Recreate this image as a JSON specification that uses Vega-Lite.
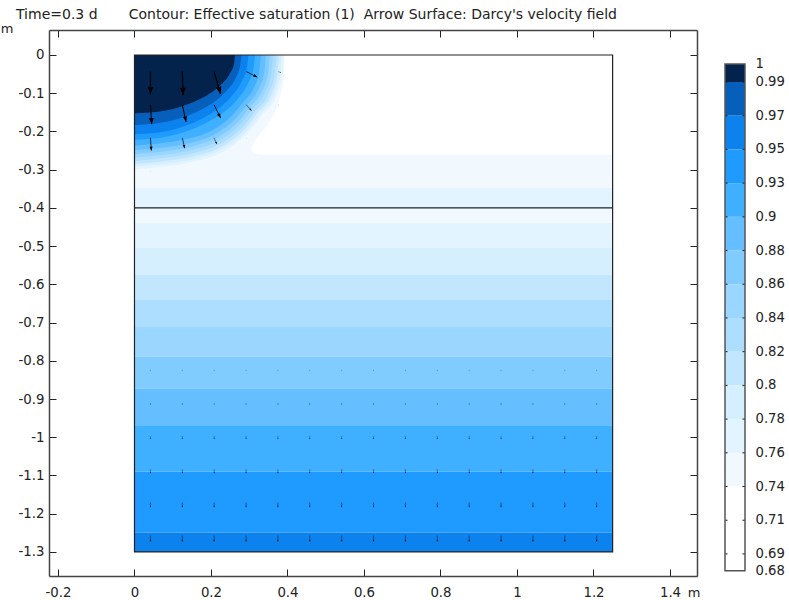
{"$schema":"https://vega.github.io/schema/vega-lite/v6.json","padding":{"left":0,"top":8,"right":0,"bottom":0},"spacing":24,"background":"white","config":{"view":{"stroke":null},"text":{"font":"DejaVu Sans"},"axis":{"labelFont":"DejaVu Sans","titleFont":"DejaVu Sans"},"title":{"font":"DejaVu Sans"}},
"datasets":{
"bands":[{"band":"0.74-0.76","x":0,"x2":1.25,"y":0,"y2":-0.348},{"band":"0.76-0.78","x":0,"x2":1.25,"y":-0.348,"y2":-0.4},{"band":"0.74-0.76","x":0,"x2":1.25,"y":-0.4,"y2":-0.4396},{"band":"0.76-0.78","x":0,"x2":1.25,"y":-0.4396,"y2":-0.505},{"band":"0.78-0.80","x":0,"x2":1.25,"y":-0.505,"y2":-0.5756},{"band":"0.80-0.82","x":0,"x2":1.25,"y":-0.5756,"y2":-0.641},{"band":"0.82-0.84","x":0,"x2":1.25,"y":-0.641,"y2":-0.7117},{"band":"0.84-0.86","x":0,"x2":1.25,"y":-0.7117,"y2":-0.789},{"band":"0.86-0.88","x":0,"x2":1.25,"y":-0.789,"y2":-0.8726},{"band":"0.88-0.90","x":0,"x2":1.25,"y":-0.8726,"y2":-0.9707},{"band":"0.90-0.93","x":0,"x2":1.25,"y":-0.9707,"y2":-1.09},{"band":"0.93-0.95","x":0,"x2":1.25,"y":-1.09,"y2":-1.249},{"band":"0.95-0.97","x":0,"x2":1.25,"y":-1.249,"y2":-1.3}],
"white":[{"x":0.3046,"y":-0.2459,"y2":-0.2459},{"x":0.3124,"y":-0.23,"y2":-0.2564},{"x":0.32,"y":-0.2172,"y2":-0.259},{"x":0.3516,"y":-0.178,"y2":-0.2616},{"x":0.3778,"y":-0.118,"y2":-0.2616},{"x":0.3908,"y":-0.0575,"y2":-0.2616},{"x":0.3925,"y":0,"y2":-0.2616},{"x":1.25,"y":0,"y2":-0.2616}],
"arcs":[
{"band":"0.76-0.78","x":0,"y":-0.299},{"band":"0.76-0.78","x":0.07,"y":-0.293},{"band":"0.76-0.78","x":0.16,"y":-0.278},{"band":"0.76-0.78","x":0.246,"y":-0.245},{"band":"0.76-0.78","x":0.301,"y":-0.2},{"band":"0.76-0.78","x":0.332,"y":-0.16},{"band":"0.76-0.78","x":0.37,"y":-0.108},{"band":"0.76-0.78","x":0.386,"y":-0.057},{"band":"0.76-0.78","x":0.391,"y":0},
{"band":"0.78-0.80","x":0,"y":-0.292},{"band":"0.78-0.80","x":0.069,"y":-0.286},{"band":"0.78-0.80","x":0.158,"y":-0.272},{"band":"0.78-0.80","x":0.243,"y":-0.239},{"band":"0.78-0.80","x":0.296,"y":-0.196},{"band":"0.78-0.80","x":0.327,"y":-0.156},{"band":"0.78-0.80","x":0.364,"y":-0.105},{"band":"0.78-0.80","x":0.38,"y":-0.055},{"band":"0.78-0.80","x":0.385,"y":0},
{"band":"0.80-0.82","x":0,"y":-0.285},{"band":"0.80-0.82","x":0.068,"y":-0.279},{"band":"0.80-0.82","x":0.155,"y":-0.265},{"band":"0.80-0.82","x":0.238,"y":-0.234},{"band":"0.80-0.82","x":0.291,"y":-0.191},{"band":"0.80-0.82","x":0.321,"y":-0.152},{"band":"0.80-0.82","x":0.358,"y":-0.103},{"band":"0.80-0.82","x":0.373,"y":-0.054},{"band":"0.80-0.82","x":0.378,"y":0},
{"band":"0.82-0.84","x":0,"y":-0.277},{"band":"0.82-0.84","x":0.067,"y":-0.271},{"band":"0.82-0.84","x":0.152,"y":-0.257},{"band":"0.82-0.84","x":0.234,"y":-0.227},{"band":"0.82-0.84","x":0.286,"y":-0.185},{"band":"0.82-0.84","x":0.315,"y":-0.148},{"band":"0.82-0.84","x":0.351,"y":-0.1},{"band":"0.82-0.84","x":0.366,"y":-0.053},{"band":"0.82-0.84","x":0.371,"y":0},
{"band":"0.84-0.86","x":0,"y":-0.268},{"band":"0.84-0.86","x":0.065,"y":-0.262},{"band":"0.84-0.86","x":0.148,"y":-0.249},{"band":"0.84-0.86","x":0.228,"y":-0.22},{"band":"0.84-0.86","x":0.279,"y":-0.179},{"band":"0.84-0.86","x":0.308,"y":-0.143},{"band":"0.84-0.86","x":0.342,"y":-0.096},{"band":"0.84-0.86","x":0.357,"y":-0.051},{"band":"0.84-0.86","x":0.362,"y":0},
{"band":"0.86-0.88","x":0,"y":-0.259},{"band":"0.86-0.88","x":0.064,"y":-0.254},{"band":"0.86-0.88","x":0.145,"y":-0.241},{"band":"0.86-0.88","x":0.223,"y":-0.212},{"band":"0.86-0.88","x":0.272,"y":-0.174},{"band":"0.86-0.88","x":0.3,"y":-0.138},{"band":"0.86-0.88","x":0.334,"y":-0.093},{"band":"0.86-0.88","x":0.349,"y":-0.049},{"band":"0.86-0.88","x":0.3535,"y":0},
{"band":"0.88-0.90","x":0,"y":-0.249},{"band":"0.88-0.90","x":0.062,"y":-0.244},{"band":"0.88-0.90","x":0.141,"y":-0.231},{"band":"0.88-0.90","x":0.216,"y":-0.204},{"band":"0.88-0.90","x":0.264,"y":-0.167},{"band":"0.88-0.90","x":0.292,"y":-0.133},{"band":"0.88-0.90","x":0.324,"y":-0.089},{"band":"0.88-0.90","x":0.339,"y":-0.047},{"band":"0.88-0.90","x":0.343,"y":0},
{"band":"0.90-0.93","x":0,"y":-0.237},{"band":"0.90-0.93","x":0.059,"y":-0.232},{"band":"0.90-0.93","x":0.135,"y":-0.22},{"band":"0.90-0.93","x":0.208,"y":-0.194},{"band":"0.90-0.93","x":0.254,"y":-0.159},{"band":"0.90-0.93","x":0.281,"y":-0.127},{"band":"0.90-0.93","x":0.312,"y":-0.085},{"band":"0.90-0.93","x":0.326,"y":-0.045},{"band":"0.90-0.93","x":0.33,"y":0},
{"band":"0.93-0.95","x":0,"y":-0.222},{"band":"0.93-0.95","x":0.057,"y":-0.218},{"band":"0.93-0.95","x":0.129,"y":-0.202},{"band":"0.93-0.95","x":0.198,"y":-0.172},{"band":"0.93-0.95","x":0.243,"y":-0.142},{"band":"0.93-0.95","x":0.268,"y":-0.117},{"band":"0.93-0.95","x":0.298,"y":-0.072},{"band":"0.93-0.95","x":0.311,"y":-0.036},{"band":"0.93-0.95","x":0.315,"y":0},
{"band":"0.95-0.97","x":0,"y":-0.207},{"band":"0.95-0.97","x":0.054,"y":-0.204},{"band":"0.95-0.97","x":0.122,"y":-0.189},{"band":"0.95-0.97","x":0.187,"y":-0.161},{"band":"0.95-0.97","x":0.229,"y":-0.132},{"band":"0.95-0.97","x":0.253,"y":-0.109},{"band":"0.95-0.97","x":0.281,"y":-0.067},{"band":"0.95-0.97","x":0.294,"y":-0.033},{"band":"0.95-0.97","x":0.2975,"y":0},
{"band":"0.97-0.99","x":0,"y":-0.183},{"band":"0.97-0.99","x":0.05,"y":-0.18},{"band":"0.97-0.99","x":0.115,"y":-0.167},{"band":"0.97-0.99","x":0.176,"y":-0.142},{"band":"0.97-0.99","x":0.216,"y":-0.117},{"band":"0.97-0.99","x":0.238,"y":-0.096},{"band":"0.97-0.99","x":0.265,"y":-0.059},{"band":"0.97-0.99","x":0.276,"y":-0.029},{"band":"0.97-0.99","x":0.28,"y":0},
{"band":"0.99-1","x":0,"y":-0.1525},{"band":"0.99-1","x":0.047,"y":-0.15},{"band":"0.99-1","x":0.108,"y":-0.139},{"band":"0.99-1","x":0.166,"y":-0.118},{"band":"0.99-1","x":0.203,"y":-0.097},{"band":"0.99-1","x":0.224,"y":-0.08},{"band":"0.99-1","x":0.249,"y":-0.049},{"band":"0.99-1","x":0.26,"y":-0.024},{"band":"0.99-1","x":0.263,"y":0}],
"box":[{"x":0,"x2":1.25,"y":0,"y2":-1.3}],
"layerline":[{"x":0,"x2":1.25,"y":-0.4}],
"arrows":[
{"x":0.0417,"y":-0.0433,"x2":0.0417,"y2":-0.103,"angle":180,"speed":0.06},{"x":0.125,"y":-0.0433,"x2":0.127,"y2":-0.105,"angle":178,"speed":0.062},{"x":0.208,"y":-0.0433,"x2":0.225,"y2":-0.102,"angle":164,"speed":0.061},{"x":0.292,"y":-0.0433,"x2":0.321,"y2":-0.058,"angle":117,"speed":0.0325},{"x":0.375,"y":-0.0433,"x2":0.383,"y2":-0.046,"angle":109,"speed":0.008},
{"x":0.0417,"y":-0.13,"x2":0.045,"y2":-0.181,"angle":176,"speed":0.051},{"x":0.125,"y":-0.13,"x2":0.135,"y2":-0.175,"angle":167.5,"speed":0.046},{"x":0.208,"y":-0.13,"x2":0.225,"y2":-0.165,"angle":154,"speed":0.039},{"x":0.292,"y":-0.13,"x2":0.306,"y2":-0.146,"angle":139,"speed":0.021},{"x":0.375,"y":-0.13,"x2":0.377,"y2":-0.131,"angle":117,"speed":0.002},
{"x":0.0417,"y":-0.2167,"x2":0.044,"y2":-0.25,"angle":176,"speed":0.033},{"x":0.125,"y":-0.2167,"x2":0.131,"y2":-0.244,"angle":168,"speed":0.028},{"x":0.208,"y":-0.2167,"x2":0.215,"y2":-0.233,"angle":157,"speed":0.018},{"x":0.292,"y":-0.2167,"x2":0.293,"y2":-0.2175,"angle":130,"speed":0.001},
{"x":0.0417,"y":-0.303,"x2":0.0417,"y2":-0.304,"angle":180,"speed":0.001},
{"x":0.0417,"y":-0.8236,"x2":0.0417,"y2":-0.8266,"angle":180,"speed":0.003},{"x":0.125,"y":-0.8236,"x2":0.125,"y2":-0.8266,"angle":180,"speed":0.003},{"x":0.2083,"y":-0.8236,"x2":0.2083,"y2":-0.8266,"angle":180,"speed":0.003},{"x":0.2917,"y":-0.8236,"x2":0.2917,"y2":-0.8266,"angle":180,"speed":0.003},{"x":0.375,"y":-0.8236,"x2":0.375,"y2":-0.8266,"angle":180,"speed":0.003},{"x":0.4583,"y":-0.8236,"x2":0.4583,"y2":-0.8266,"angle":180,"speed":0.003},{"x":0.5417,"y":-0.8236,"x2":0.5417,"y2":-0.8266,"angle":180,"speed":0.003},{"x":0.625,"y":-0.8236,"x2":0.625,"y2":-0.8266,"angle":180,"speed":0.003},{"x":0.7083,"y":-0.8236,"x2":0.7083,"y2":-0.8266,"angle":180,"speed":0.003},{"x":0.7917,"y":-0.8236,"x2":0.7917,"y2":-0.8266,"angle":180,"speed":0.003},{"x":0.875,"y":-0.8236,"x2":0.875,"y2":-0.8266,"angle":180,"speed":0.003},{"x":0.9583,"y":-0.8236,"x2":0.9583,"y2":-0.8266,"angle":180,"speed":0.003},{"x":1.0417,"y":-0.8236,"x2":1.0417,"y2":-0.8266,"angle":180,"speed":0.003},{"x":1.125,"y":-0.8236,"x2":1.125,"y2":-0.8266,"angle":180,"speed":0.003},{"x":1.2083,"y":-0.8236,"x2":1.2083,"y2":-0.8266,"angle":180,"speed":0.003},
{"x":0.0417,"y":-0.9103,"x2":0.0417,"y2":-0.9153,"angle":180,"speed":0.005},{"x":0.125,"y":-0.9103,"x2":0.125,"y2":-0.9153,"angle":180,"speed":0.005},{"x":0.2083,"y":-0.9103,"x2":0.2083,"y2":-0.9153,"angle":180,"speed":0.005},{"x":0.2917,"y":-0.9103,"x2":0.2917,"y2":-0.9153,"angle":180,"speed":0.005},{"x":0.375,"y":-0.9103,"x2":0.375,"y2":-0.9153,"angle":180,"speed":0.005},{"x":0.4583,"y":-0.9103,"x2":0.4583,"y2":-0.9153,"angle":180,"speed":0.005},{"x":0.5417,"y":-0.9103,"x2":0.5417,"y2":-0.9153,"angle":180,"speed":0.005},{"x":0.625,"y":-0.9103,"x2":0.625,"y2":-0.9153,"angle":180,"speed":0.005},{"x":0.7083,"y":-0.9103,"x2":0.7083,"y2":-0.9153,"angle":180,"speed":0.005},{"x":0.7917,"y":-0.9103,"x2":0.7917,"y2":-0.9153,"angle":180,"speed":0.005},{"x":0.875,"y":-0.9103,"x2":0.875,"y2":-0.9153,"angle":180,"speed":0.005},{"x":0.9583,"y":-0.9103,"x2":0.9583,"y2":-0.9153,"angle":180,"speed":0.005},{"x":1.0417,"y":-0.9103,"x2":1.0417,"y2":-0.9153,"angle":180,"speed":0.005},{"x":1.125,"y":-0.9103,"x2":1.125,"y2":-0.9153,"angle":180,"speed":0.005},{"x":1.2083,"y":-0.9103,"x2":1.2083,"y2":-0.9153,"angle":180,"speed":0.005},
{"x":0.0417,"y":-0.997,"x2":0.0417,"y2":-1.005,"angle":180,"speed":0.008},{"x":0.125,"y":-0.997,"x2":0.125,"y2":-1.005,"angle":180,"speed":0.008},{"x":0.2083,"y":-0.997,"x2":0.2083,"y2":-1.005,"angle":180,"speed":0.008},{"x":0.2917,"y":-0.997,"x2":0.2917,"y2":-1.005,"angle":180,"speed":0.008},{"x":0.375,"y":-0.997,"x2":0.375,"y2":-1.005,"angle":180,"speed":0.008},{"x":0.4583,"y":-0.997,"x2":0.4583,"y2":-1.005,"angle":180,"speed":0.008},{"x":0.5417,"y":-0.997,"x2":0.5417,"y2":-1.005,"angle":180,"speed":0.008},{"x":0.625,"y":-0.997,"x2":0.625,"y2":-1.005,"angle":180,"speed":0.008},{"x":0.7083,"y":-0.997,"x2":0.7083,"y2":-1.005,"angle":180,"speed":0.008},{"x":0.7917,"y":-0.997,"x2":0.7917,"y2":-1.005,"angle":180,"speed":0.008},{"x":0.875,"y":-0.997,"x2":0.875,"y2":-1.005,"angle":180,"speed":0.008},{"x":0.9583,"y":-0.997,"x2":0.9583,"y2":-1.005,"angle":180,"speed":0.008},{"x":1.0417,"y":-0.997,"x2":1.0417,"y2":-1.005,"angle":180,"speed":0.008},{"x":1.125,"y":-0.997,"x2":1.125,"y2":-1.005,"angle":180,"speed":0.008},{"x":1.2083,"y":-0.997,"x2":1.2083,"y2":-1.005,"angle":180,"speed":0.008},
{"x":0.0417,"y":-1.0837,"x2":0.0417,"y2":-1.0942,"angle":180,"speed":0.0105},{"x":0.125,"y":-1.0837,"x2":0.125,"y2":-1.0942,"angle":180,"speed":0.0105},{"x":0.2083,"y":-1.0837,"x2":0.2083,"y2":-1.0942,"angle":180,"speed":0.0105},{"x":0.2917,"y":-1.0837,"x2":0.2917,"y2":-1.0942,"angle":180,"speed":0.0105},{"x":0.375,"y":-1.0837,"x2":0.375,"y2":-1.0942,"angle":180,"speed":0.0105},{"x":0.4583,"y":-1.0837,"x2":0.4583,"y2":-1.0942,"angle":180,"speed":0.0105},{"x":0.5417,"y":-1.0837,"x2":0.5417,"y2":-1.0942,"angle":180,"speed":0.0105},{"x":0.625,"y":-1.0837,"x2":0.625,"y2":-1.0942,"angle":180,"speed":0.0105},{"x":0.7083,"y":-1.0837,"x2":0.7083,"y2":-1.0942,"angle":180,"speed":0.0105},{"x":0.7917,"y":-1.0837,"x2":0.7917,"y2":-1.0942,"angle":180,"speed":0.0105},{"x":0.875,"y":-1.0837,"x2":0.875,"y2":-1.0942,"angle":180,"speed":0.0105},{"x":0.9583,"y":-1.0837,"x2":0.9583,"y2":-1.0942,"angle":180,"speed":0.0105},{"x":1.0417,"y":-1.0837,"x2":1.0417,"y2":-1.0942,"angle":180,"speed":0.0105},{"x":1.125,"y":-1.0837,"x2":1.125,"y2":-1.0942,"angle":180,"speed":0.0105},{"x":1.2083,"y":-1.0837,"x2":1.2083,"y2":-1.0942,"angle":180,"speed":0.0105},
{"x":0.0417,"y":-1.1704,"x2":0.0417,"y2":-1.1834,"angle":180,"speed":0.013},{"x":0.125,"y":-1.1704,"x2":0.125,"y2":-1.1834,"angle":180,"speed":0.013},{"x":0.2083,"y":-1.1704,"x2":0.2083,"y2":-1.1834,"angle":180,"speed":0.013},{"x":0.2917,"y":-1.1704,"x2":0.2917,"y2":-1.1834,"angle":180,"speed":0.013},{"x":0.375,"y":-1.1704,"x2":0.375,"y2":-1.1834,"angle":180,"speed":0.013},{"x":0.4583,"y":-1.1704,"x2":0.4583,"y2":-1.1834,"angle":180,"speed":0.013},{"x":0.5417,"y":-1.1704,"x2":0.5417,"y2":-1.1834,"angle":180,"speed":0.013},{"x":0.625,"y":-1.1704,"x2":0.625,"y2":-1.1834,"angle":180,"speed":0.013},{"x":0.7083,"y":-1.1704,"x2":0.7083,"y2":-1.1834,"angle":180,"speed":0.013},{"x":0.7917,"y":-1.1704,"x2":0.7917,"y2":-1.1834,"angle":180,"speed":0.013},{"x":0.875,"y":-1.1704,"x2":0.875,"y2":-1.1834,"angle":180,"speed":0.013},{"x":0.9583,"y":-1.1704,"x2":0.9583,"y2":-1.1834,"angle":180,"speed":0.013},{"x":1.0417,"y":-1.1704,"x2":1.0417,"y2":-1.1834,"angle":180,"speed":0.013},{"x":1.125,"y":-1.1704,"x2":1.125,"y2":-1.1834,"angle":180,"speed":0.013},{"x":1.2083,"y":-1.1704,"x2":1.2083,"y2":-1.1834,"angle":180,"speed":0.013},
{"x":0.0417,"y":-1.2571,"x2":0.0417,"y2":-1.2728,"angle":180,"speed":0.0157},{"x":0.125,"y":-1.2571,"x2":0.125,"y2":-1.2728,"angle":180,"speed":0.0157},{"x":0.2083,"y":-1.2571,"x2":0.2083,"y2":-1.2728,"angle":180,"speed":0.0157},{"x":0.2917,"y":-1.2571,"x2":0.2917,"y2":-1.2728,"angle":180,"speed":0.0157},{"x":0.375,"y":-1.2571,"x2":0.375,"y2":-1.2728,"angle":180,"speed":0.0157},{"x":0.4583,"y":-1.2571,"x2":0.4583,"y2":-1.2728,"angle":180,"speed":0.0157},{"x":0.5417,"y":-1.2571,"x2":0.5417,"y2":-1.2728,"angle":180,"speed":0.0157},{"x":0.625,"y":-1.2571,"x2":0.625,"y2":-1.2728,"angle":180,"speed":0.0157},{"x":0.7083,"y":-1.2571,"x2":0.7083,"y2":-1.2728,"angle":180,"speed":0.0157},{"x":0.7917,"y":-1.2571,"x2":0.7917,"y2":-1.2728,"angle":180,"speed":0.0157},{"x":0.875,"y":-1.2571,"x2":0.875,"y2":-1.2728,"angle":180,"speed":0.0157},{"x":0.9583,"y":-1.2571,"x2":0.9583,"y2":-1.2728,"angle":180,"speed":0.0157},{"x":1.0417,"y":-1.2571,"x2":1.0417,"y2":-1.2728,"angle":180,"speed":0.0157},{"x":1.125,"y":-1.2571,"x2":1.125,"y2":-1.2728,"angle":180,"speed":0.0157},{"x":1.2083,"y":-1.2571,"x2":1.2083,"y2":-1.2728,"angle":180,"speed":0.0157}],
"legendBands":[{"band":"0.99-1","top":-0.534,"bottom":0},{"band":"0.97-0.99","top":0,"bottom":1},{"band":"0.95-0.97","top":1,"bottom":2},{"band":"0.93-0.95","top":2,"bottom":3},{"band":"0.90-0.93","top":3,"bottom":4},{"band":"0.88-0.90","top":4,"bottom":5},{"band":"0.86-0.88","top":5,"bottom":6},{"band":"0.84-0.86","top":6,"bottom":7},{"band":"0.82-0.84","top":7,"bottom":8},{"band":"0.80-0.82","top":8,"bottom":9},{"band":"0.78-0.80","top":9,"bottom":10},{"band":"0.76-0.78","top":10,"bottom":11},{"band":"0.74-0.76","top":11,"bottom":12},{"band":"0.68-0.74","top":12,"bottom":14.5}],
"legendLabels":[{"rank":-0.534,"label":"1"},{"rank":0,"label":"0.99"},{"rank":1,"label":"0.97"},{"rank":2,"label":"0.95"},{"rank":3,"label":"0.93"},{"rank":4,"label":"0.9"},{"rank":5,"label":"0.88"},{"rank":6,"label":"0.86"},{"rank":7,"label":"0.84"},{"rank":8,"label":"0.82"},{"rank":9,"label":"0.8"},{"rank":10,"label":"0.78"},{"rank":11,"label":"0.76"},{"rank":12,"label":"0.74"},{"rank":13,"label":"0.71"},{"rank":14,"label":"0.69"},{"rank":14.5,"label":"0.68"}],
"legendTicks":[{"rank":0},{"rank":1},{"rank":2},{"rank":3},{"rank":4},{"rank":5},{"rank":6},{"rank":7},{"rank":8},{"rank":9},{"rank":10},{"rank":11},{"rank":12},{"rank":13},{"rank":14}],
"legendFrame":[{"top":-0.534,"bottom":14.5}]
},
"hconcat":[
{"width":648,"height":546,
"title":{"text":"Time=0.3 d\u00a0\u00a0\u00a0\u00a0\u00a0\u00a0\u00a0Contour: Effective saturation (1)\u00a0\u00a0Arrow Surface: Darcy's velocity field","anchor":"start","frame":"group","dx":-33,"offset":0,"fontSize":14,"fontWeight":"normal","color":"#222222"},
"resolve":{"axis":{"x":"independent","y":"independent"}},
"layer":[
{"data":{"name":"bands"},"mark":{"type":"rect"},"encoding":{
"x":{"field":"x","type":"quantitative","scale":{"domain":[-0.2235,1.4706],"nice":false,"zero":false},"axis":{"orient":"bottom","values":[-0.2,0,0.2,0.4,0.6,0.8,1,1.2,1.4],"labelExpr":"toString(round(datum.value*10)/10)","grid":false,"domainColor":"#444444","domainWidth":1.5,"tickColor":"#222222","tickWidth":1,"tickSize":-7,"labelFontSize":13.3,"labelColor":"#222222","labelPadding":16,"labelFlush":false,"labelOverlap":false,"title":"m","titleFontSize":13,"titleFontWeight":"normal","titleColor":"#222222","titleX":644.5,"titleY":16,"titleBaseline":"middle"}},
"x2":{"field":"x2"},
"y":{"field":"y","type":"quantitative","scale":{"domain":[-1.363,0.0654],"nice":false,"zero":false},"axis":{"orient":"left","values":[0,-0.1,-0.2,-0.3,-0.4,-0.5,-0.6,-0.7,-0.8,-0.9,-1,-1.1,-1.2,-1.3],"labelExpr":"toString(round(datum.value*10)/10)","grid":false,"domainColor":"#444444","domainWidth":1.5,"tickColor":"#222222","tickWidth":1,"tickSize":-7,"labelFontSize":13.3,"labelColor":"#222222","labelPadding":12,"labelFlush":false,"labelOverlap":false,"title":"m","titleAngle":0,"titleFontSize":13,"titleFontWeight":"normal","titleColor":"#222222","titleX":-42.5,"titleY":5,"titleAlign":"center"}},
"y2":{"field":"y2"},
"color":{"field":"band","type":"nominal","legend":null,"scale":{"domain":["0.99-1","0.97-0.99","0.95-0.97","0.93-0.95","0.90-0.93","0.88-0.90","0.86-0.88","0.84-0.86","0.82-0.84","0.80-0.82","0.78-0.80","0.76-0.78","0.74-0.76","0.68-0.74"],"range":["#03234D","#055FBB","#0C82EE","#1F9BFF","#3FB0FF","#64BEFF","#80CBFF","#9AD6FF","#ADDEFF","#C3E6FF","#D5EFFF","#E2F4FF","#F1F9FF","#FFFFFF"]}}}},
{"data":{"name":"white"},"mark":{"type":"area","color":"#FFFFFF","interpolate":"monotone"},"encoding":{
"x":{"field":"x","type":"quantitative","axis":null,"scale":{"domain":[-0.2235,1.4706],"nice":false,"zero":false}},
"y":{"field":"y","type":"quantitative","axis":null,"scale":{"domain":[-1.363,0.0654],"nice":false,"zero":false}},
"y2":{"field":"y2"}}},
{"data":{"name":"arcs"},"mark":{"type":"area","interpolate":"monotone","opacity":1},"encoding":{
"x":{"field":"x","type":"quantitative","axis":null,"scale":{"domain":[-0.2235,1.4706],"nice":false,"zero":false}},
"y":{"field":"y","type":"quantitative","axis":null,"stack":null,"scale":{"domain":[-1.363,0.0654],"nice":false,"zero":false}},
"color":{"field":"band","type":"nominal","legend":null}}},
{"data":{"name":"box"},"mark":{"type":"rect","fill":null,"stroke":"#222222","strokeWidth":1.2},"encoding":{
"x":{"field":"x","type":"quantitative","scale":{"domain":[-0.2235,1.4706],"nice":false,"zero":false},"axis":{"orient":"top","values":[-0.2,0,0.2,0.4,0.6,0.8,1,1.2,1.4],"labels":false,"title":null,"grid":false,"domainColor":"#444444","domainWidth":1.5,"tickColor":"#222222","tickWidth":1,"tickSize":-7}},
"x2":{"field":"x2"},
"y":{"field":"y","type":"quantitative","scale":{"domain":[-1.363,0.0654],"nice":false,"zero":false},"axis":{"orient":"right","values":[0,-0.1,-0.2,-0.3,-0.4,-0.5,-0.6,-0.7,-0.8,-0.9,-1,-1.1,-1.2,-1.3],"labels":false,"title":null,"grid":false,"domainColor":"#444444","domainWidth":1.5,"tickColor":"#222222","tickWidth":1,"tickSize":-7}},
"y2":{"field":"y2"}}},
{"data":{"name":"layerline"},"mark":{"type":"rule","color":"#222222","strokeWidth":1.2},"encoding":{
"x":{"field":"x","type":"quantitative","axis":null,"scale":{"domain":[-0.2235,1.4706],"nice":false,"zero":false}},
"x2":{"field":"x2"},
"y":{"field":"y","type":"quantitative","axis":null,"scale":{"domain":[-1.363,0.0654],"nice":false,"zero":false}}}},
{"data":{"name":"arrows"},"mark":{"type":"rule","color":"#000000"},"encoding":{
"x":{"field":"x","type":"quantitative","axis":null,"scale":{"domain":[-0.2235,1.4706],"nice":false,"zero":false}},
"x2":{"field":"x2"},
"y":{"field":"y","type":"quantitative","axis":null,"scale":{"domain":[-1.363,0.0654],"nice":false,"zero":false}},
"y2":{"field":"y2"},
"strokeWidth":{"field":"speed","type":"quantitative","legend":null,"scale":{"domain":[0,0.06],"range":[0.2,1.2]}}}},
{"data":{"name":"arrows"},"mark":{"type":"point","filled":true,"opacity":1,"color":"#000000","shape":"M0,0L-0.4,1L0.4,1Z"},"encoding":{
"x":{"field":"x2","type":"quantitative","axis":null,"scale":{"domain":[-0.2235,1.4706],"nice":false,"zero":false}},
"y":{"field":"y2","type":"quantitative","axis":null,"scale":{"domain":[-1.363,0.0654],"nice":false,"zero":false}},
"angle":{"field":"angle","type":"quantitative","scale":null},
"size":{"field":"speed","type":"quantitative","legend":null,"scale":{"type":"pow","exponent":2,"domain":[0,0.06],"range":[0,200]}}}}
]},
{"width":20,"height":546,
"layer":[
{"data":{"name":"legendBands"},"mark":{"type":"rect"},"encoding":{
"x":{"datum":0,"type":"quantitative","scale":{"domain":[0,1],"nice":false},"axis":null},
"x2":{"datum":1},
"y":{"field":"top","type":"quantitative","scale":{"domain":[14.654,-1.5425],"nice":false,"zero":false},"axis":null},
"y2":{"field":"bottom"},
"color":{"field":"band","type":"nominal","legend":null,"scale":{"domain":["0.99-1","0.97-0.99","0.95-0.97","0.93-0.95","0.90-0.93","0.88-0.90","0.86-0.88","0.84-0.86","0.82-0.84","0.80-0.82","0.78-0.80","0.76-0.78","0.74-0.76","0.68-0.74"],"range":["#03234D","#055FBB","#0C82EE","#1F9BFF","#3FB0FF","#64BEFF","#80CBFF","#9AD6FF","#ADDEFF","#C3E6FF","#D5EFFF","#E2F4FF","#F1F9FF","#FFFFFF"]}}}},
{"data":{"name":"legendTicks"},"mark":{"type":"rule","color":"#222222","strokeWidth":1},"encoding":{
"x":{"datum":0,"type":"quantitative","scale":{"domain":[0,1],"nice":false},"axis":null},
"x2":{"datum":0.13},
"y":{"field":"rank","type":"quantitative","scale":{"domain":[14.654,-1.5425],"nice":false,"zero":false},"axis":null}}},
{"data":{"name":"legendTicks"},"mark":{"type":"rule","color":"#222222","strokeWidth":1},"encoding":{
"x":{"datum":0.87,"type":"quantitative","scale":{"domain":[0,1],"nice":false},"axis":null},
"x2":{"datum":1},
"y":{"field":"rank","type":"quantitative","scale":{"domain":[14.654,-1.5425],"nice":false,"zero":false},"axis":null}}},
{"data":{"name":"legendFrame"},"mark":{"type":"rect","fill":null,"stroke":"#555555","strokeWidth":1.5},"encoding":{
"x":{"datum":0,"type":"quantitative","scale":{"domain":[0,1],"nice":false},"axis":null},
"x2":{"datum":1},
"y":{"field":"top","type":"quantitative","scale":{"domain":[14.654,-1.5425],"nice":false,"zero":false},"axis":null},
"y2":{"field":"bottom"}}},
{"data":{"name":"legendLabels"},"mark":{"type":"text","align":"left","baseline":"middle","dx":10.5,"fontSize":13.2,"color":"#222222"},"encoding":{
"x":{"datum":1,"type":"quantitative","scale":{"domain":[0,1],"nice":false},"axis":null},
"y":{"field":"rank","type":"quantitative","scale":{"domain":[14.654,-1.5425],"nice":false,"zero":false},"axis":null},
"text":{"field":"label"}}}
]}
]}
